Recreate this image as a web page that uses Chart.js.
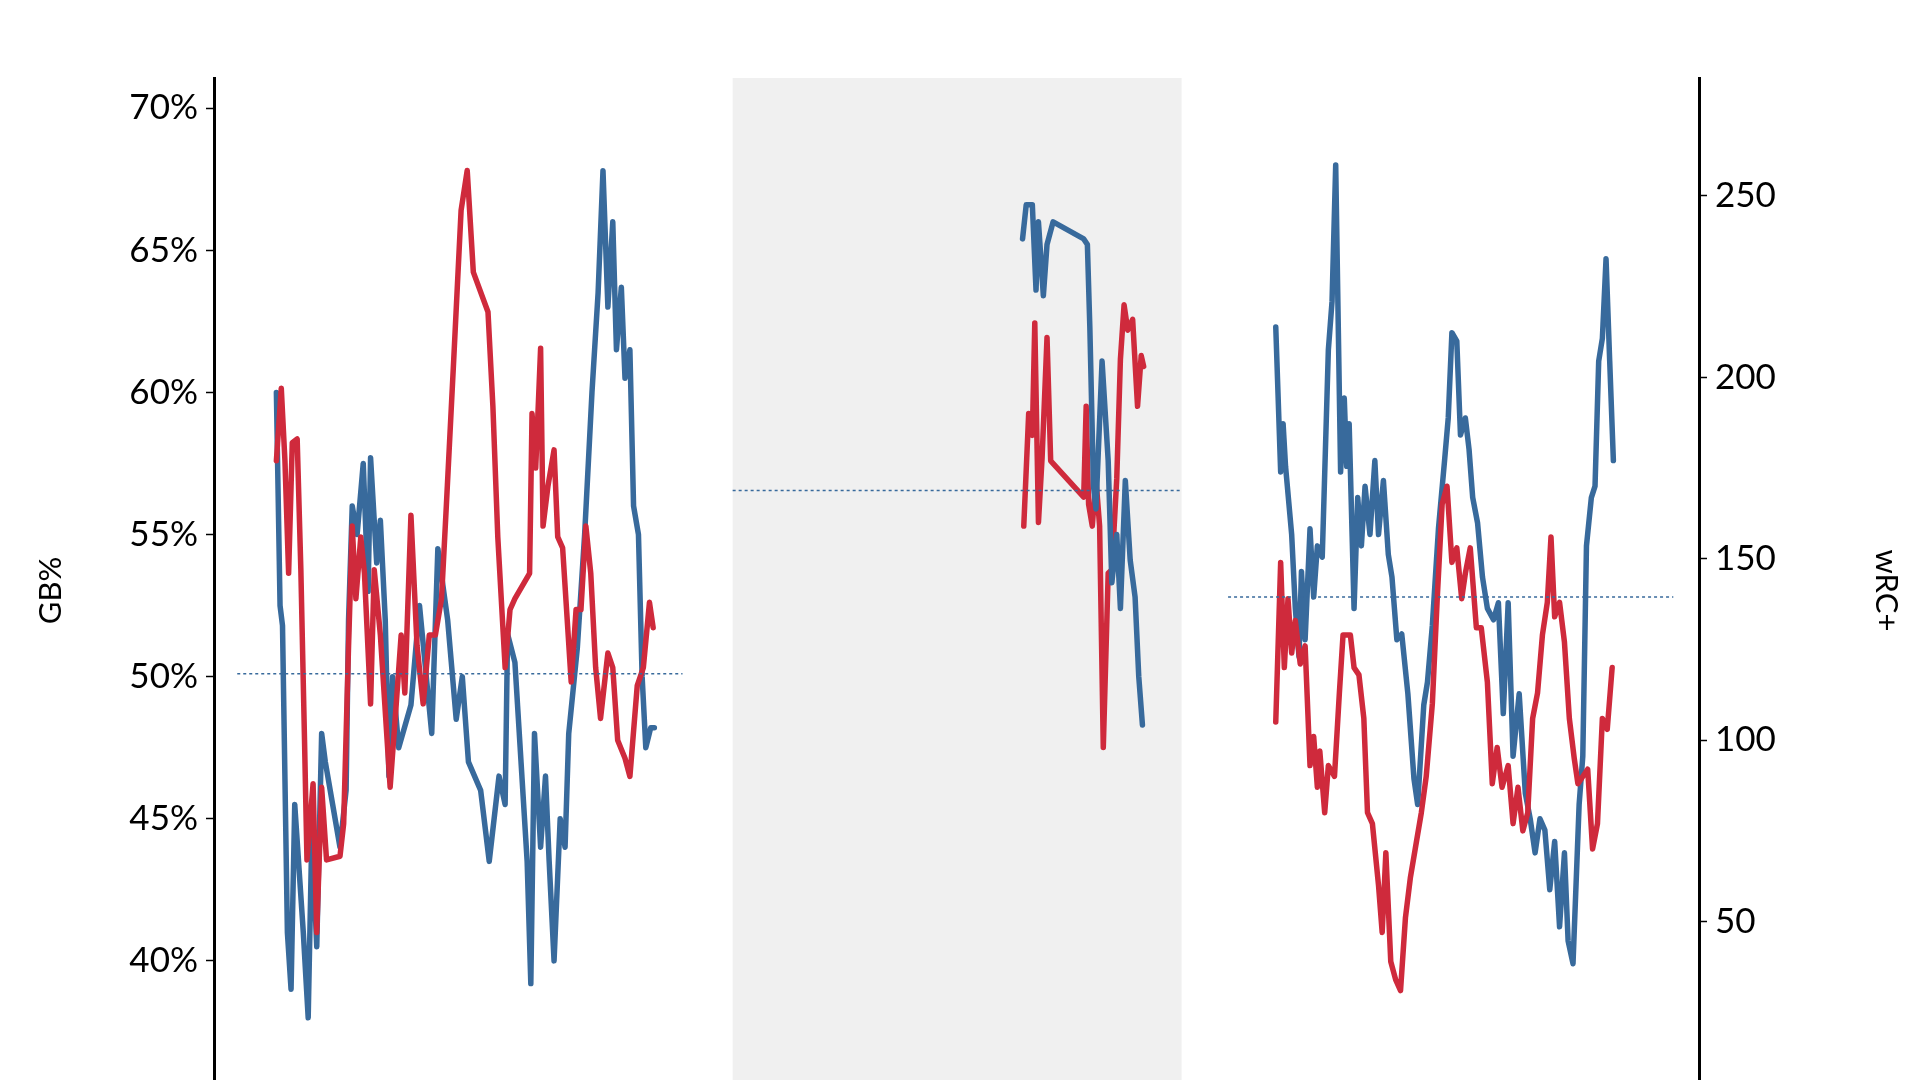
<!DOCTYPE html>
<html>
<head>
<meta charset="utf-8">
<script src="https://cdn.jsdelivr.net/npm/chart.js@4.4.0/dist/chart.umd.min.js"></script>
<style>
  html, body { margin: 0; padding: 0; background: #fff; overflow: hidden; }
  #wrap { width: 1921px; height: 1132px; }
</style>
</head>
<body>
<div id="wrap"><canvas id="gbChart" width="1921" height="1132"></canvas></div>
<script>
// x = game index along the season, y = rolling GB% (blue) and wRC+ (red)
const gb1X = [51,54,56,60,63,66,73,77,80,84,88,91,97,103,108,110,113,117,122,126,128,133,136,140,143,146,151,161,168,178,183,191,198,203,208,218,225,233,238,240,246,256,259,262,267,271,274,278,283,287,290,297,303,309,314,318,322,326,329,333,336,340,343,347,350,353,357,360];
const gb1Y = [60,52.5,51.8,41,39,45.5,41,38,44.5,40.5,48,47,45.5,44,46,52,56,55,57.5,53,57.7,54,55.5,52,46.5,50,47.5,49,52.5,48,54.5,52,48.5,50,47,46,43.5,46.5,45.5,51.5,50.5,43.5,39.2,48,44,46.5,43.5,40,45,44,48,51,55,60,63.5,67.8,63,66,61.5,63.7,60.5,61.5,56,55,50,47.5,48.2,48.2];
const rc1X = [51,55,58,61,64,68,71,74,76,81,84,88,92,103,106,110,113,116,120,123,128,131,136,144,149,153,156,161,166,171,176,181,186,190,196,202,207,212,224,228,232,238,242,246,258,260,263,267,269,273,278,281,285,292,296,300,304,308,312,316,322,326,330,336,340,346,351,356,359];
const rc1Y = [177,197,177,146,182,183,147,100,67,88,47,87,67,68,77,126,159,139,156,146,110,147,129,87,110,129,113,162,126,110,129,129,139,165,205,246,257,229,218,192,156,120,136,139,146,190,175,208,159,170,180,156,153,116,136,136,159,146,120,106,124,120,100,95,90,115,120,138,131];
const gb2X = [661,664,669,672,674,678,681,686,711,714,716,719,721,726,731,734,738,741,745,749,753,756,759];
const gb2Y = [65.4,66.6,66.6,63.6,66.0,63.4,65.2,66.0,65.4,65.2,62.3,56.7,55.9,61.1,57.6,53.3,55.0,52.4,56.9,54.1,52.8,50.0,48.3];
const rc2X = [662,666,669,671,674,677,681,684,711,713,715,718,721,724,727,731,734,738,741,744,747,751,755,758,760];
const rc2Y = [159,190,184,215,160,178,211,177,167,192,165,159,172,159,98,146,147,172,205,220,213,216,192,206,203];
const gb3X = [868,872,874,876,881,884,887,889,892,896,899,902,906,911,914,917,921,924,926,928,932,935,938,941,945,949,952,956,960,963,967,971,976,981,984,989,992,996,1001,1006,1009,1012,1016,1019,1023,1026,1029,1033,1037,1041,1046,1050,1054,1058,1062,1067,1072,1076,1080,1084,1088,1092,1096,1100,1104,1107,1111,1116,1119,1122,1126,1129,1132,1135,1138,1141,1144];
const gb3Y = [62.3,57.2,58.9,57.4,55,52.4,50.7,53.7,51.3,55.2,52.8,54.6,54.2,61.5,63.2,68,57.2,59.8,57.4,58.9,52.4,56.3,54.6,56.7,55,57.6,55,56.9,54.3,53.5,51.3,51.5,49.4,46.4,45.5,49,49.8,51.8,55.2,57.6,59.1,62.1,61.8,58.5,59.1,58,56.3,55.4,53.5,52.4,52,52.6,48.7,52.6,47.2,49.4,45.9,45,43.8,45,44.6,42.5,44.2,41.2,43.8,40.7,39.9,45.5,47.2,54.6,56.3,56.7,61.1,61.9,64.7,61.1,57.6];
const rc3X = [868,872,875,878,881,884,888,892,896,899,902,904,908,911,916,920,923,929,932,936,940,943,947,952,955,958,962,966,970,974,978,982,987,991,996,1000,1004,1008,1012,1016,1020,1023,1027,1032,1036,1041,1045,1049,1053,1058,1062,1066,1070,1074,1078,1082,1086,1090,1093,1096,1100,1104,1108,1112,1115,1119,1123,1127,1131,1135,1139,1143];
const rc3Y = [105,149,120,139,124,133,121,126,93,101,87,97,80,93,90,113,129,129,120,118,106,80,77,60,47,69,39,34,31,51,62,70,80,90,110,139,165,170,149,153,139,146,153,131,131,116,88,98,87,93,77,87,75,80,106,113,129,138,156,134,138,127,106,95,88,90,92,70,77,106,103,120];
// season averages of GB% (dotted)
const avgStart = [19, 424, 829];
const avgEnd = [383, 791, 1193];
const avgGB = [50.1, 56.55, 52.8];
// shaded stretch
const shadeFrom = 424, shadeTo = 791;
// tick labels
const gbTicks = [35, 40, 45, 50, 55, 60, 65, 70];
const rcTicks = [0, 50, 100, 150, 200, 250];

const BLUE = '#386a9c', RED = '#cf2a3c';
const pts = (xs, ys) => xs.map((x, i) => ({ x, y: ys[i] }));
const lineDs = (data, color, axis) => ({
  data, borderColor: color, borderWidth: 5.5, pointRadius: 0, yAxisID: axis,
  tension: 0, borderJoinStyle: 'round', borderCapStyle: 'round'
});

const datasets = [];
for (let i = 0; i < 3; i++) {
  datasets.push({
    data: [{ x: avgStart[i], y: avgGB[i] }, { x: avgEnd[i], y: avgGB[i] }],
    borderColor: BLUE, borderWidth: 1.5, borderDash: [3, 3], pointRadius: 0, yAxisID: 'yGB'
  });
}
datasets.push(lineDs(pts(rc1X, rc1Y), RED, 'yRC'));
datasets.push(lineDs(pts(gb1X, gb1Y), BLUE, 'yGB'));
datasets.push(lineDs(pts(gb2X, gb2Y), BLUE, 'yGB'));
datasets.push(lineDs(pts(rc2X, rc2Y), RED, 'yRC'));
datasets.push(lineDs(pts(rc3X, rc3Y), RED, 'yRC'));
datasets.push(lineDs(pts(gb3X, gb3Y), BLUE, 'yGB'));

const shade = {
  id: 'shade',
  beforeDatasetsDraw(chart) {
    const { ctx, chartArea, scales } = chart;
    const x0 = scales.x.getPixelForValue(shadeFrom);
    const x1 = scales.x.getPixelForValue(shadeTo);
    ctx.save();
    ctx.fillStyle = '#f0f0f0';
    ctx.fillRect(x0, chartArea.top, x1 - x0, chartArea.bottom - chartArea.top);
    ctx.restore();
  }
};

const tickFont = { family: 'Lato, "Open Sans", sans-serif', size: 35 };

new Chart(document.getElementById('gbChart'), {
  type: 'line',
  data: { datasets },
  plugins: [shade],
  options: {
    responsive: false,
    animation: false,
    layout: { padding: { top: 78, bottom: 0, left: 0, right: 0 } },
    plugins: { legend: { display: false }, tooltip: { enabled: false } },
    scales: {
      x: { type: 'linear', min: 0, max: 1214, display: false },
      yGB: {
        position: 'left', min: 35, max: 71.06,
        afterBuildTicks: s => { s.ticks = gbTicks.map(v => ({ value: v })); },
        afterFit: s => { s.width = 214; },
        ticks: { color: '#000', font: tickFont, padding: 8, callback: v => v + '%' },
        grid: { drawOnChartArea: false, tickLength: 8, color: '#000', tickWidth: 1.5 },
        border: { color: '#000', width: 3 },
        title: { display: true, text: 'GB%', color: '#000', font: { ...tickFont, size: 31 }, padding: { top: 32 } }
      },
      yRC: {
        position: 'right', min: 0, max: 282.5,
        afterBuildTicks: s => { s.ticks = rcTicks.map(v => ({ value: v })); },
        afterFit: s => { s.width = 222; },
        ticks: { color: '#000', font: tickFont, padding: 8 },
        grid: { drawOnChartArea: false, tickLength: 8, color: '#000', tickWidth: 1.5 },
        border: { color: '#000', width: 3 },
        title: { display: true, text: 'wRC+', color: '#000', font: { ...tickFont, size: 31 }, padding: { top: 16 } }
      }
    }
  }
});
</script>
</body>
</html>
